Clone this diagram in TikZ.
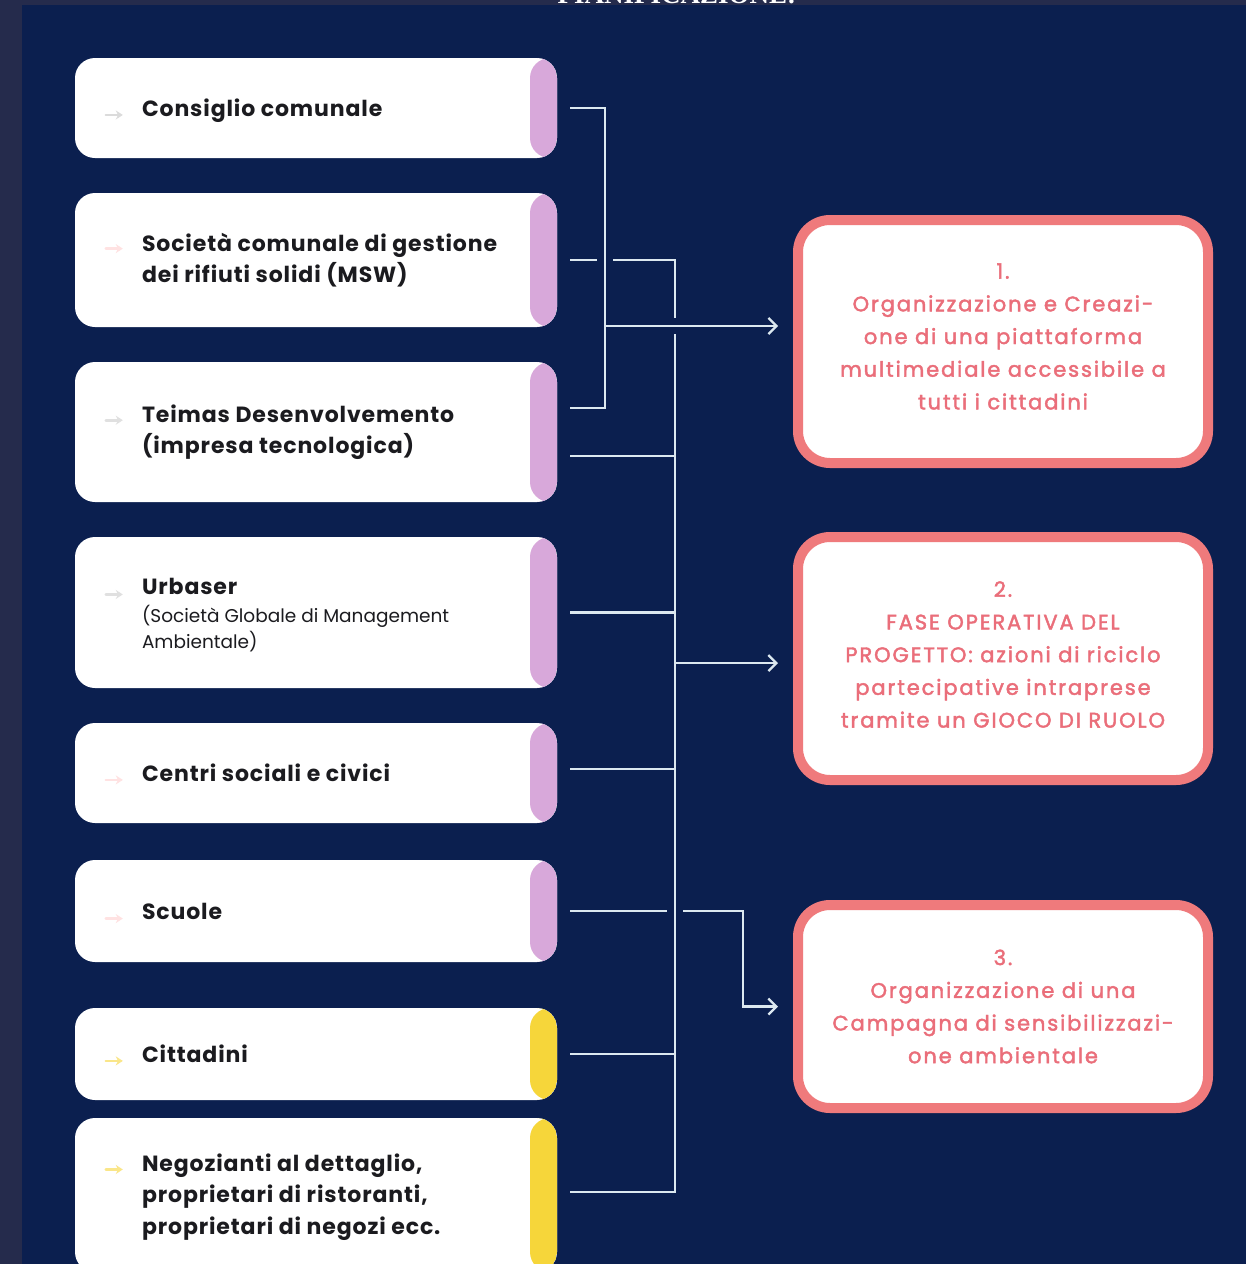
\documentclass[tikz,border=0pt]{standalone}
\usepackage{fontspec}
\setmainfont{Poppins}[BoldFeatures={LetterSpace=4}]
\newfontfamily\goalfont{Poppins}[LetterSpace=9, FakeBold=2]
\newfontfamily\titlefont{Liberation Serif}
\usetikzlibrary{arrows.meta,calc}

\definecolor{navy}{HTML}{0B1F4F}
\definecolor{frame}{HTML}{252B4C}
\definecolor{lilac}{HTML}{D8A8DA}
\definecolor{sun}{HTML}{F6D63A}
\definecolor{wire}{HTML}{DCE8F0}
\definecolor{coral}{HTML}{EF7A7C}
\definecolor{coraltext}{HTML}{EA6E7A}
\definecolor{ink}{HTML}{1B1B1F}
\newcommand\subfont{\mdseries\fontsize{18.5}{25}\selectfont}

\begin{document}
\begin{tikzpicture}[x=1pt,y=-1pt,
  actor/.style={rectangle, rounded corners=20pt, fill=white, minimum width=482pt,
    inner sep=0pt,
    path picture={\fill[#1] ([xshift=-27pt]path picture bounding box.north east)
      rectangle (path picture bounding box.south east);}},
  actortext/.style={anchor=west, align=left, inner sep=0pt, text=ink,
    font=\bfseries\fontsize{22}{31.5}\selectfont},
  goal/.style={rectangle, rounded corners=32pt, draw=coral, line width=10pt,
    fill=white, minimum width=410pt, minimum height=#1},
  goaltext/.style={align=center, text=coraltext, inner sep=0pt,
    font=\goalfont\fontsize{21}{32.7}\selectfont},
  wire/.style={draw=wire, line width=2.3pt},
  feed/.style={wire, shorten >=15pt,
    -{Straight Barb[length=8pt,width=16pt,line width=2.3pt]}},
  icon/.style={draw=#1, line width=2.6pt, line cap=round,
    -{Stealth[length=7pt,width=9pt]}},
]
\useasboundingbox (0,0) rectangle (1246,1264);

% backdrop
\fill[navy] (0,0) rectangle (1246,1264);
\fill[frame] (0,0) rectangle (22,1264);
\fill[frame] (0,0) rectangle (1246,5);

\begin{scope}
  \clip (0,0) rectangle (1246,1264);
  \node[anchor=base, inner sep=0pt, text=white,
        font=\titlefont\bfseries\fontsize{27}{27}\selectfont]
        (title) at (677,3) {PIANIFICAZIONE:};
\end{scope}

% stakeholders
\node[actor=lilac, minimum height=100pt] (b1) at (316,108) {};
\node[actor=lilac, minimum height=134pt] (b2) at (316,260) {};
\node[actor=lilac, minimum height=140pt] (b3) at (316,432) {};
\node[actor=lilac, minimum height=151pt] (b4) at (316,612.5) {};
\node[actor=lilac, minimum height=100pt] (b5) at (316,773) {};
\node[actor=lilac, minimum height=102pt] (b6) at (316,911) {};
\node[actor=sun,   minimum height=92pt]  (b7) at (316,1054) {};
\node[actor=sun,   minimum height=154pt] (b8) at (316,1195) {};

\node[actortext] (t1) at ([xshift=67pt,yshift=-3pt]b1.west) {Consiglio comunale};
\node[actortext] (t2) at ([xshift=67pt]b2.west) {Società comunale di gestione\\dei rifiuti solidi (MSW)};
\node[actortext] (t3) at ([xshift=67pt]b3.west) {Teimas Desenvolvemento\\(impresa tecnologica)};
\node[actortext] (t4) at ([xshift=67pt,yshift=-3pt]b4.west)
  {Urbaser\\[-4pt]\subfont (Società Globale di Management\\[-5pt]\subfont Ambientale)};
\node[actortext] (t5) at ([xshift=67pt]b5.west) {Centri sociali e civici};
\node[actortext] (t6) at ([xshift=67pt]b6.west) {Scuole};
\node[actortext] (t7) at ([xshift=67pt]b7.west) {Cittadini};
\node[actortext] (t8) at ([xshift=67pt,yshift=-2pt]b8.west) {Negozianti al dettaglio,\\proprietari di ristoranti,\\proprietari di negozi ecc.};

% faint bullet arrows
\draw[icon=black!14]       ($(t1.north west)+(-36,16)$) -- ++(17,0);
\draw[icon=pink!45]        ($(t2.north west)+(-36,16)$) -- ++(17,0);
\draw[icon=black!12]       ($(t3.north west)+(-36,16)$) -- ++(17,0);
\draw[icon=black!12]       ($(t4.north west)+(-36,16)$) -- ++(17,0);
\draw[icon=pink!45]        ($(t5.north west)+(-36,16)$) -- ++(17,0);
\draw[icon=pink!45]        ($(t6.north west)+(-36,16)$) -- ++(17,0);
\draw[icon=sun!60]         ($(t7.north west)+(-36,16)$) -- ++(17,0);
\draw[icon=sun!60]         ($(t8.north west)+(-36,16)$) -- ++(17,0);

% project phases
\node[goal=243pt] (r1) at (1003,341.5) {};
\node[goal=243pt] (r2) at (1003,658.5) {};
\node[goal=203pt] (r3) at (1003,1006.5) {};
\node[goaltext] (g1) at ([yshift=5pt]r1.center)
  {1.\\Organizzazione e Creazi-\\one di una piattaforma\\multimediale accessibile a\\tutti i cittadini};
\node[goaltext] (g2) at ([yshift=4pt]r2.center)
  {2.\\FASE OPERATIVA DEL\\PROGETTO: azioni di riciclo\\partecipative intraprese\\tramite un GIOCO DI RUOLO};
\node[goaltext] (g3) at (r3.center)
  {3.\\Organizzazione di una\\Campagna di sensibilizzazi-\\one ambientale};

% connector ports
\coordinate (p1)  at ([xshift=13pt]b1.east);
\coordinate (p2)  at ([xshift=13pt]b2.east);
\coordinate (p3a) at ([xshift=13pt,yshift=24pt]b3.east);
\coordinate (p3b) at ([xshift=13pt,yshift=-24pt]b3.east);
\coordinate (p4)  at ([xshift=13pt]b4.east);
\coordinate (p5)  at ([xshift=13pt,yshift=4pt]b5.east);
\coordinate (p6)  at ([xshift=13pt]b6.east);
\coordinate (p7)  at ([xshift=13pt]b7.east);
\coordinate (p8)  at ([xshift=13pt,yshift=3pt]b8.east);

% bus lines and junctions
\coordinate (kx) at (605,0);
\coordinate (bx) at (675,0);
\coordinate (cx) at (743,0);
\coordinate (j1) at (605,326);
\coordinate (j2) at (675,663);

% bracket of the first three actors into phase 1
\draw[wire] (p1) -- (p1 -| kx) -- (p3a -| kx) -- (p3a);
\draw[feed] (j1) -- (j1 -| r1.west);

% main bus into phase 2
\draw[wire] (p2) -- ($(p2 -| kx)+(-8,0)$);
\draw[wire] ($(p2 -| kx)+(8,0)$) -- (p2 -| bx) -- ($(j1 -| bx)+(0,-8)$);
\draw[wire] ($(j1 -| bx)+(0,8)$) -- (p8 -| bx) -- (p8);
\draw[wire] (p3b) -- (p3b -| bx);
\draw[wire] (p4) -- (p4 -| bx);
\draw[wire] (p5) -- (p5 -| bx);
\draw[wire] (p7) -- (p7 -| bx);
\draw[feed] (j2) -- (j2 -| r2.west);

% schools into phase 3
\draw[wire] (p6) -- ($(p6 -| bx)+(-8,0)$);
\draw[feed] ($(p6 -| bx)+(8,0)$) -- (p6 -| cx) -- (cx |- r3.west) -- (r3.west);
\end{tikzpicture}
\end{document}
